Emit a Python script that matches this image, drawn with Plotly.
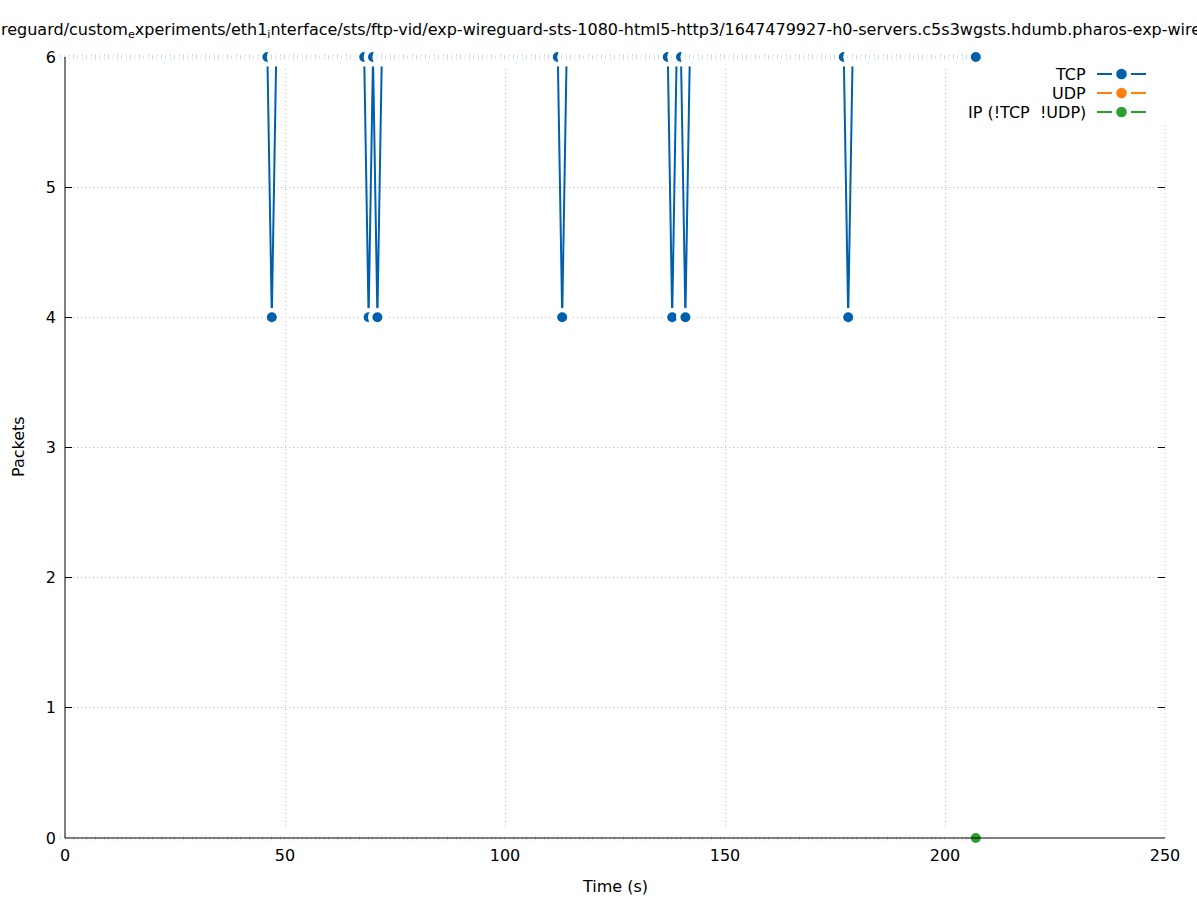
import plotly.graph_objects as go

# ---------------- data ----------------
time_s = list(range(0, 208))

tcp_packets = [
    6, 6, 6, 6, 6, 6, 6, 6, 6, 6, 6, 6, 6, 6, 6, 6,
    6, 6, 6, 6, 6, 6, 6, 6, 6, 6, 6, 6, 6, 6, 6, 6,
    6, 6, 6, 6, 6, 6, 6, 6, 6, 6, 6, 6, 6, 6, 6, 4,
    6, 6, 6, 6, 6, 6, 6, 6, 6, 6, 6, 6, 6, 6, 6, 6,
    6, 6, 6, 6, 6, 4, 6, 4, 6, 6, 6, 6, 6, 6, 6, 6,
    6, 6, 6, 6, 6, 6, 6, 6, 6, 6, 6, 6, 6, 6, 6, 6,
    6, 6, 6, 6, 6, 6, 6, 6, 6, 6, 6, 6, 6, 6, 6, 6,
    6, 4, 6, 6, 6, 6, 6, 6, 6, 6, 6, 6, 6, 6, 6, 6,
    6, 6, 6, 6, 6, 6, 6, 6, 6, 6, 4, 6, 6, 4, 6, 6,
    6, 6, 6, 6, 6, 6, 6, 6, 6, 6, 6, 6, 6, 6, 6, 6,
    6, 6, 6, 6, 6, 6, 6, 6, 6, 6, 6, 6, 6, 6, 6, 6,
    6, 6, 4, 6, 6, 6, 6, 6, 6, 6, 6, 6, 6, 6, 6, 6,
    6, 6, 6, 6, 6, 6, 6, 6, 6, 6, 6, 6, 6, 6, 6, 6,
]

udp_packets = [
    0, 0, 0, 0, 0, 0, 0, 0, 0, 0, 0, 0, 0, 0, 0, 0,
    0, 0, 0, 0, 0, 0, 0, 0, 0, 0, 0, 0, 0, 0, 0, 0,
    0, 0, 0, 0, 0, 0, 0, 0, 0, 0, 0, 0, 0, 0, 0, 0,
    0, 0, 0, 0, 0, 0, 0, 0, 0, 0, 0, 0, 0, 0, 0, 0,
    0, 0, 0, 0, 0, 0, 0, 0, 0, 0, 0, 0, 0, 0, 0, 0,
    0, 0, 0, 0, 0, 0, 0, 0, 0, 0, 0, 0, 0, 0, 0, 0,
    0, 0, 0, 0, 0, 0, 0, 0, 0, 0, 0, 0, 0, 0, 0, 0,
    0, 0, 0, 0, 0, 0, 0, 0, 0, 0, 0, 0, 0, 0, 0, 0,
    0, 0, 0, 0, 0, 0, 0, 0, 0, 0, 0, 0, 0, 0, 0, 0,
    0, 0, 0, 0, 0, 0, 0, 0, 0, 0, 0, 0, 0, 0, 0, 0,
    0, 0, 0, 0, 0, 0, 0, 0, 0, 0, 0, 0, 0, 0, 0, 0,
    0, 0, 0, 0, 0, 0, 0, 0, 0, 0, 0, 0, 0, 0, 0, 0,
    0, 0, 0, 0, 0, 0, 0, 0, 0, 0, 0, 0, 0, 0, 0, 0,
]

ip_packets = [
    0, 0, 0, 0, 0, 0, 0, 0, 0, 0, 0, 0, 0, 0, 0, 0,
    0, 0, 0, 0, 0, 0, 0, 0, 0, 0, 0, 0, 0, 0, 0, 0,
    0, 0, 0, 0, 0, 0, 0, 0, 0, 0, 0, 0, 0, 0, 0, 0,
    0, 0, 0, 0, 0, 0, 0, 0, 0, 0, 0, 0, 0, 0, 0, 0,
    0, 0, 0, 0, 0, 0, 0, 0, 0, 0, 0, 0, 0, 0, 0, 0,
    0, 0, 0, 0, 0, 0, 0, 0, 0, 0, 0, 0, 0, 0, 0, 0,
    0, 0, 0, 0, 0, 0, 0, 0, 0, 0, 0, 0, 0, 0, 0, 0,
    0, 0, 0, 0, 0, 0, 0, 0, 0, 0, 0, 0, 0, 0, 0, 0,
    0, 0, 0, 0, 0, 0, 0, 0, 0, 0, 0, 0, 0, 0, 0, 0,
    0, 0, 0, 0, 0, 0, 0, 0, 0, 0, 0, 0, 0, 0, 0, 0,
    0, 0, 0, 0, 0, 0, 0, 0, 0, 0, 0, 0, 0, 0, 0, 0,
    0, 0, 0, 0, 0, 0, 0, 0, 0, 0, 0, 0, 0, 0, 0, 0,
    0, 0, 0, 0, 0, 0, 0, 0, 0, 0, 0, 0, 0, 0, 0, 0,
]

series_names = ["TCP", "UDP", "IP (!TCP  !UDP)"]
series_colors = ["#0060ad", "#ff7f0e", "#2ca02c"]
x_ticks = [0, 50, 100, 150, 200, 250]
y_ticks = [0, 1, 2, 3, 4, 5, 6]
title_text = ("reguard/custom<sub>e</sub>xperiments/eth1<sub>i</sub>nterface/sts/ftp-vid/"
              "exp-wireguard-sts-1080-html5-http3/1647479927-h0-servers.c5s3wgsts.hdumb."
              "pharos-exp-wireguard")

# ---------------- layout geometry ----------------
W, H = 1197, 900
L, R, T, B = 65, 32, 57, 62
PW, PH = W - L - R, H - T - B
FONT = "DejaVu Sans"
FS = 16


def px(x):
    return (x - L) / PW


def py(y):
    return (H - B - y) / PH


fig = go.Figure()
for vals, name, col in zip([tcp_packets, udp_packets, ip_packets], series_names, series_colors):
    fig.add_trace(go.Scatter(
        x=time_s, y=vals, name=name, mode="lines+markers",
        line=dict(color=col, width=2),
        marker=dict(size=14.4, color=col, line=dict(color="white", width=4.4)),
        showlegend=False, cliponaxis=False,
    ))

axis_common = dict(
    ticks="inside", ticklen=7, tickcolor="black", tickwidth=1,
    mirror="ticks", showline=False, zeroline=False,
    showgrid=True, gridcolor="#b8b8b8", griddash="1px,3px", gridwidth=1,
    tickfont=dict(family=FONT, size=FS, color="black"),
    layer="below traces",
)

fig.update_layout(
    width=W, height=H,
    margin=dict(l=L, r=R, t=T, b=B, autoexpand=False),
    paper_bgcolor="white", plot_bgcolor="white",
    font=dict(family=FONT, size=FS, color="black"),
    showlegend=False,
    xaxis=dict(range=[0, 250], tickvals=x_ticks, ticklabelstandoff=6, **axis_common),
    yaxis=dict(range=[0, 6], tickvals=y_ticks, ticklabelstandoff=8, **axis_common),
)

shapes = []
# legend background (covers grid)
shapes.append(dict(type="rect", xref="paper", yref="paper", x0=px(940), x1=px(1163),
                   y0=py(125), y1=py(63), fillcolor="white", line=dict(width=0),
                   layer="between"))
# grid line at right edge (x = 250) below the legend box
shapes.append(dict(type="line", xref="paper", yref="paper", x0=1, x1=1, y0=0, y1=py(125),
                   line=dict(color="#b8b8b8", width=1, dash="1px,3px"), layer="between"))
# left and bottom border lines, drawn in front as gnuplot does
shapes.append(dict(type="line", xref="paper", yref="paper", x0=0, x1=0, y0=0, y1=1,
                   line=dict(color="black", width=1), layer="above"))
shapes.append(dict(type="line", xref="paper", yref="paper", x0=0, x1=1, y0=0, y1=0,
                   line=dict(color="black", width=1), layer="above"))

annotations = []
legend_rows = [74, 93, 112]
for name, col, yy in zip(series_names, series_colors, legend_rows):
    annotations.append(dict(text=name, xref="paper", yref="paper", x=px(1088), y=py(yy),
                            xanchor="right", yanchor="middle", showarrow=False,
                            font=dict(family=FONT, size=FS, color="black")))
    shapes.append(dict(type="line", xref="paper", yref="paper", x0=px(1097), x1=px(1112),
                       y0=py(yy), y1=py(yy), line=dict(color=col, width=2), layer="above"))
    shapes.append(dict(type="line", xref="paper", yref="paper", x0=px(1131), x1=px(1146),
                       y0=py(yy), y1=py(yy), line=dict(color=col, width=2), layer="above"))
    shapes.append(dict(type="circle", xref="paper", yref="paper",
                       xsizemode="pixel", ysizemode="pixel",
                       xanchor=px(1121.5), yanchor=py(yy),
                       x0=-5.3, x1=5.3, y0=-5.3, y1=5.3,
                       fillcolor=col, line=dict(width=0), layer="above"))

annotations.append(dict(text=title_text, xref="paper", yref="paper", x=px(-1), y=py(30),
                        xanchor="left", yanchor="middle", showarrow=False,
                        font=dict(family=FONT, size=FS, color="black")))
annotations.append(dict(text="Time (s)", xref="paper", yref="paper", x=px(615), y=py(886),
                        xanchor="center", yanchor="middle", showarrow=False,
                        font=dict(family=FONT, size=FS, color="black")))
annotations.append(dict(text="Packets", xref="paper", yref="paper", x=px(18), y=py(447),
                        xanchor="center", yanchor="middle", showarrow=False, textangle=-90,
                        font=dict(family=FONT, size=FS, color="black")))

fig.update_layout(shapes=shapes, annotations=annotations)
fig.write_html("out.html", config={"displayModeBar": False},
               post_script="document.body.style.margin='0px';")
